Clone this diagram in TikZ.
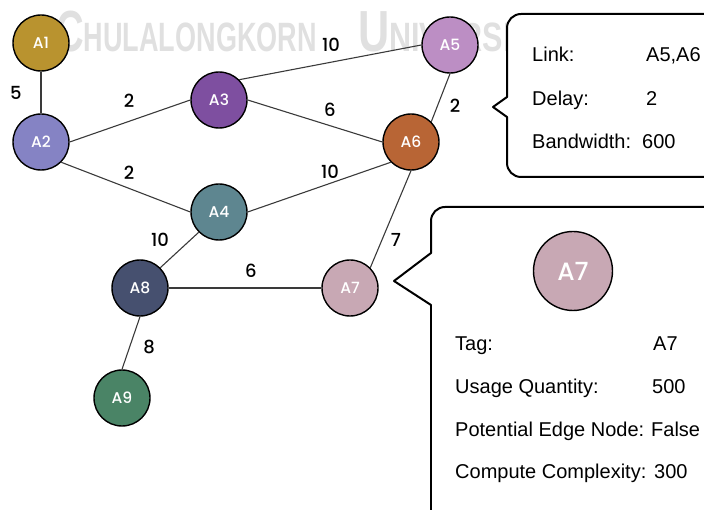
\documentclass[tikz,border=0pt]{standalone}
\usepackage{fontspec}
\setmainfont{Liberation Sans}
\newfontfamily\labelfont{Poppins Medium}
\newfontfamily\markfont[FakeStretch=0.66]{Liberation Sans}
\newfontfamily\markfontwide[FakeStretch=0.745]{Liberation Sans}

\definecolor{cA1}{HTML}{B9932F}
\definecolor{cA2}{HTML}{8583C4}
\definecolor{cA3}{HTML}{7E4FA0}
\definecolor{cA4}{HTML}{5E8690}
\definecolor{cA5}{HTML}{BC8EC4}
\definecolor{cA6}{HTML}{B86535}
\definecolor{cA7}{HTML}{C8A8B4}
\definecolor{cA8}{HTML}{46506F}
\definecolor{cA9}{HTML}{4A8466}
\definecolor{markgray}{HTML}{E0E0E0}
\definecolor{edgegray}{HTML}{3A3A3A}

\begin{document}
\begin{tikzpicture}[x=1pt,y=-1pt,
  vertex/.style={circle, draw=black, line width=1.4pt, minimum size=56pt,
    inner sep=0pt, text=white, font=\labelfont\fontsize{15.5}{15.5}\selectfont},
  bigvertex/.style={vertex, minimum size=79pt, font=\labelfont\fontsize{25}{25}\selectfont},
  link/.style={draw=edgegray, line width=1.1pt},
  weight/.style={inner sep=0pt, font=\labelfont\fontsize{18}{18}\selectfont},
  info/.style={anchor=base west, inner sep=0pt, font=\fontsize{20}{20}\selectfont},
  callout/.style={draw=black, line width=2pt, line cap=round, line join=round},
  wmtext/.style={anchor=base west, inner sep=0pt, text=markgray}
]
\useasboundingbox (0,0) rectangle (704,510);
\clip (0,0) rectangle (704,510);

% background lettering
\node[wmtext, font=\markfont\bfseries] (wm1) at (56,52)
  {\fontsize{58}{58}\selectfont C\fontsize{41}{41}\selectfont HULALONGKORN};
\node[wmtext, font=\markfontwide\bfseries] (wm2) at (358,52)
  {\fontsize{58}{58}\selectfont U\fontsize{41}{41}\selectfont NIVERSITY};

% vertices
\node[vertex, fill=cA1] (a1) at (41,43)  {A1};
\node[vertex, fill=cA2] (a2) at (41,142) {A2};
\node[vertex, fill=cA3] (a3) at (219,100) {A3};
\node[vertex, fill=cA4] (a4) at (219,212) {A4};
\node[vertex, fill=cA5] (a5) at (450,45) {A5};
\node[vertex, fill=cA6] (a6) at (411,142) {A6};
\node[vertex, fill=cA7] (a7) at (350,288) {A7};
\node[vertex, fill=cA8] (a8) at (140,288) {A8};
\node[vertex, fill=cA9] (a9) at (122,398) {A9};

% links, attached to fixed anchors on each vertex
\draw[link] (a1.south) -- (a2.north);
\draw[link] (a2.east) -- (a3.west);
\draw[link] (a2.south east) -- (a4.west);
\draw[link] (a3.north east) -- (a5.west);
\draw[link] (a3.east) -- (a6.west);
\draw[link] (a5.south) -- (a6.north east);
\draw[link] (a4.east) -- (a6.south west);
\draw[link] (a4.south west) -- (a8.north east);
\draw[link] (a6.south) -- (a7.north east);
\draw[link] (a8.east) -- (a7.west);
\draw[link] (a8.south) -- (a9.north);

% link weights
\node[weight] (w12) at (16,93)   {5};
\node[weight] (w23) at (129,101) {2};
\node[weight] (w24) at (129,173) {2};
\node[weight] (w35) at (331,45)  {10};
\node[weight] (w36) at (330,110) {6};
\node[weight] (w56) at (455,106) {2};
\node[weight] (w46) at (330,172) {10};
\node[weight] (w48) at (160,240) {10};
\node[weight] (w67) at (396,240) {7};
\node[weight] (w87) at (251,271) {6};
\node[weight] (w89) at (149,347) {8};

% link details callout
\fill[white, rounded corners=14pt] (507,14) rectangle (730,177);
\fill[white] (507,97) -- (493,107) -- (507,117) -- cycle;
\draw[callout, rounded corners=14pt] (507,97) -- (507,14) -- (730,14);
\draw[callout] (507,97) -- (493,107) -- (507,117);
\draw[callout, rounded corners=14pt] (507,117) -- (507,177) -- (730,177);
\node[info] (l1k) at (532,62)  {Link:};
\node[info] (l1v) at (646,62)  {A5,A6};
\node[info] (l2k) at (532,106) {Delay:};
\node[info] (l2v) at (646,106) {2};
\node[info] (l3k) at (532,149) {Bandwidth:};
\node[info] (l3v) at (642,149) {600};

% vertex details callout
\fill[white, rounded corners=14pt] (431,207) rectangle (730,530);
\fill[white] (431,253) -- (394,281) -- (431,305) -- cycle;
\draw[callout, rounded corners=14pt] (431,253) -- (431,207) -- (730,207);
\draw[callout] (431,253) -- (394,281) -- (431,305);
\draw[callout] (431,305) -- (431,530);
\node[bigvertex, fill=cA7] (big7) at (573,271) {A7};
\node[info] (n1k) at (455,351) {Tag:};
\node[info] (n1v) at (653,351) {A7};
\node[info] (n2k) at (455,393) {Usage Quantity:};
\node[info] (n2v) at (652,393) {500};
\node[info] (n3k) at (455,436) {Potential Edge Node:};
\node[info] (n3v) at (651,436) {False};
\node[info] (n4k) at (455,478) {Compute Complexity:};
\node[info] (n4v) at (654,478) {300};
\end{tikzpicture}
\end{document}
